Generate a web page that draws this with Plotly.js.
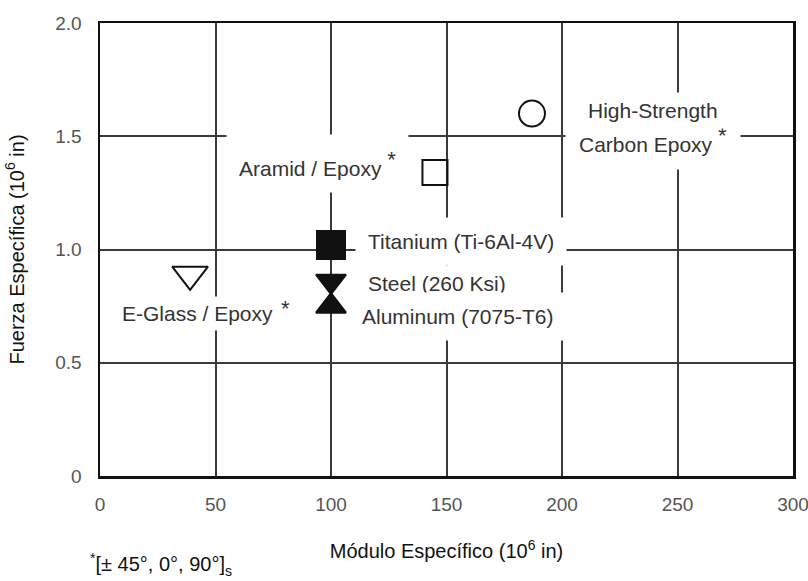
<!DOCTYPE html>
<html>
<head>
<meta charset="utf-8">
<script src="https://cdn.plot.ly/plotly-3.0.1.min.js"></script>
<style>html,body{margin:0;padding:0;background:#fff;}</style>
</head>
<body>
<div id="chart" style="width:808px;height:581px;"></div>
<script>
// Data
const materials = ['High-Strength Carbon Epoxy', 'Aramid / Epoxy', 'Titanium (Ti-6Al-4V)', 'Steel (260 Ksi)', 'Aluminum (7075-T6)', 'E-Glass / Epoxy'];
const specificModulus = [187, 145, 100, 100, 100, 39];      // 10^6 in
const specificStrength = [1.60, 1.34, 1.02, 0.86, 0.75, 0.89]; // 10^6 in
const markerSymbols = ['circle-open', 'square-open', 'square', 'triangle-down', 'triangle-up', 'triangle-down-open'];
const xTickVals = [0, 50, 100, 150, 200, 250, 300];
const xTickText = ['0', '50', '100', '150', '200', '250', '300'];
const yTickVals = [0, 0.5, 1.0, 1.5, 2.0];
const yTickText = ['0', '0.5', '1.0', '1.5', '2.0'];

const STAR = '<span style="font-size:22px">*</span>';
// Label texts (star marks laminate materials); the carbon label's second line comes first so the first line draws on top
const labelLines = [
  ['Carbon Epoxy <sup>' + STAR + '</sup>', 'High-Strength'],
  ['Aramid / Epoxy <sup>' + STAR + '</sup>'],
  ['Titanium (Ti-6Al-4V)'],
  ['Steel (260 Ksi)'],
  ['Aluminum (7075-T6)'],
  ['E-Glass / Epoxy', STAR]
];

const FONT = 'Liberation Sans, Arial, Helvetica, sans-serif';

const trace = {
  type: 'scatter',
  mode: 'markers',
  x: specificModulus,
  y: specificStrength,
  text: materials,
  hoverinfo: 'text',
  showlegend: false,
  marker: {
    symbol: markerSymbols,
    size: [26, 25, 28, 26, 26, 31],
    color: '#111',
    opacity: 1,
    line: {color: '#111', width: 2}
  },
  cliponaxis: false
};

// label placement (pixel offsets from each marker)
const labelStyle = [
  [{xs: 121, ys: -26, xa: 'center', pad: 13}, {xs: 121, ys: 3, xa: 'center', pad: 6}],
  [{xs: -26, ys: 9, xa: 'right', pad: 12}],
  [{xs: 24, ys: 3, xa: 'left', pad: 12}],
  [{xs: 30, ys: -2, xa: 'left', pad: 6}],
  [{xs: 18, ys: -10, xa: 'left', pad: 12}],
  [{xs: 7, ys: -39, xa: 'center', pad: 5}, {xs: 90, ys: -34, xa: 'left', pad: 0, clear: true}]
];

const annotations = [];
labelLines.forEach((lines, i) => {
  lines.forEach((t, j) => {
    const s = labelStyle[i][j];
    annotations.push({
      x: specificModulus[i], y: specificStrength[i], xref: 'x', yref: 'y',
      text: t, showarrow: false,
      xanchor: s.xa, yanchor: 'middle',
      xshift: s.xs, yshift: s.ys,
      bgcolor: s.clear ? 'rgba(0,0,0,0)' : '#ffffff', borderpad: s.pad,
      font: {family: FONT, size: 21, color: '#333'}
    });
  });
});

// footnote
annotations.push({
  xref: 'paper', yref: 'paper', x: -0.017, y: -0.195,
  xanchor: 'left', yanchor: 'middle', showarrow: false,
  text: '<sup>*</sup>[± 45°, 0°, 90°]<sub>s</sub>',
  font: {family: FONT, size: 20, color: '#111'}
});

const layout = {
  width: 808, height: 581,
  margin: {l: 100, r: 15, t: 23, b: 105},
  paper_bgcolor: '#fff', plot_bgcolor: '#fff',
  font: {family: FONT, color: '#444'},
  xaxis: {
    range: [0, 300],
    tickvals: xTickVals, ticktext: xTickText,
    showgrid: true, gridcolor: '#3a3a3a', gridwidth: 2,
    zeroline: false, showline: true, mirror: true,
    linecolor: '#111', linewidth: 2.5, ticks: '',
    tickfont: {family: FONT, size: 19, color: '#555'},
    ticklabelstandoff: 10,
    ticklabeloverflow: 'allow',
    title: {text: 'Módulo Específico (10<sup>6</sup> in)', font: {family: FONT, size: 20, color: '#111'}, standoff: 30}
  },
  yaxis: {
    range: [0, 2],
    tickvals: yTickVals, ticktext: yTickText,
    showgrid: true, gridcolor: '#3a3a3a', gridwidth: 2,
    zeroline: false, showline: true, mirror: true,
    linecolor: '#111', linewidth: 2.5, ticks: '',
    tickfont: {family: FONT, size: 19, color: '#555'},
    ticklabelstandoff: 12,
    title: {text: 'Fuerza Específica (10<sup>6</sup> in)', font: {family: FONT, size: 20, color: '#111'}, standoff: 26}
  },
  annotations: annotations
};

Plotly.newPlot('chart', [trace], layout, {displayModeBar: false, staticPlot: true});
</script>
</body>
</html>
